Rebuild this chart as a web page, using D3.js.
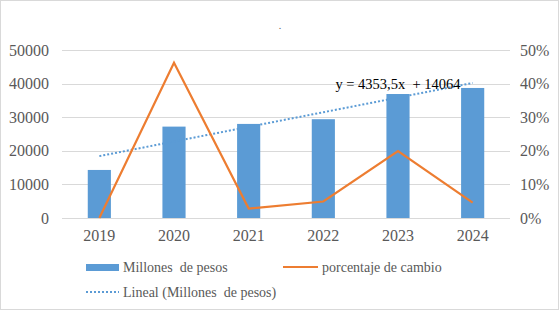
<!DOCTYPE html>
<html>
<head>
<meta charset="utf-8">
<script src="https://cdn.jsdelivr.net/npm/d3@7"></script>
</head>
<body style="margin:0;background:#fff">
<div id="chart"></div>
<script>
// Data
const years = ['2019', '2020', '2021', '2022', '2023', '2024'];
const millones = [14300, 27200, 28000, 29400, 36900, 38700];
const cambio = [0, 0.462, 0.028, 0.049, 0.199, 0.046];
const leftTicks = [0, 10000, 20000, 30000, 40000, 50000];
const rightTicks = [0, 0.1, 0.2, 0.3, 0.4, 0.5];
const trendSlope = 4353.5;
const trendIntercept = 14064;

const width = 559;
const height = 310;
const margin = { top: 50, right: 49, bottom: 92, left: 62 };

const serif = 'Liberation Serif';
const barColor = '#5b9bd5';
const lineColor = '#ed7d31';
const gridColor = '#d9d9d9';
const textColor = '#595959';

const svg = d3.select('#chart')
    .append('svg')
    .attr('width', width)
    .attr('height', height);

// outer border
svg.append('rect')
    .attr('x', 0.5).attr('y', 0.5)
    .attr('width', width - 1).attr('height', height - 1)
    .attr('fill', '#fff')
    .attr('stroke', gridColor);

// Scales
const x = d3.scaleBand()
    .domain(years)
    .range([margin.left, width - margin.right]);

const yLeft = d3.scaleLinear()
    .domain([0, 50000])
    .range([height - margin.bottom, margin.top]);

const yRight = d3.scaleLinear()
    .domain([0, 0.5])
    .range([height - margin.bottom, margin.top]);

// Gridlines
svg.append('g')
    .selectAll('line')
    .data(leftTicks)
    .join('line')
    .attr('x1', margin.left)
    .attr('x2', width - margin.right)
    .attr('y1', d => Math.round(yLeft(d)) + 0.5)
    .attr('y2', d => Math.round(yLeft(d)) + 0.5)
    .attr('stroke', gridColor)
    .attr('stroke-width', 1);

function styleAxis(g) {
    g.attr('font-family', null).attr('font-size', null);
    g.select('.domain').remove();
    g.selectAll('text')
        .style('font-family', serif)
        .style('font-size', '16px')
        .attr('fill', textColor);
}

// Left axis
svg.append('g')
    .attr('transform', `translate(${margin.left - 13},0)`)
    .call(d3.axisLeft(yLeft).tickValues(leftTicks).tickSize(0).tickPadding(0).tickFormat(d3.format('d')))
    .call(styleAxis);

// Right axis
svg.append('g')
    .attr('transform', `translate(${width - margin.right + 10},0)`)
    .call(d3.axisRight(yRight).tickValues(rightTicks).tickSize(0).tickPadding(0).tickFormat(d3.format('.0%')))
    .call(styleAxis);

// Bottom axis
svg.append('g')
    .attr('transform', `translate(0,${height - margin.bottom + 12})`)
    .call(d3.axisBottom(x).tickSize(0).tickPadding(0))
    .call(styleAxis);

// Bars
const barW = x.bandwidth() * 0.31;
svg.append('g')
    .selectAll('rect')
    .data(millones)
    .join('rect')
    .attr('x', (d, i) => x(years[i]) + x.bandwidth() / 2 - barW / 2)
    .attr('y', d => yLeft(d))
    .attr('width', barW)
    .attr('height', d => yLeft(0) - yLeft(d))
    .attr('fill', barColor);

// Linear trend
const trend = years.map((y, i) => ({ year: y, v: trendSlope * (i + 1) + trendIntercept }));
const trendLine = d3.line()
    .x(d => x(d.year) + x.bandwidth() / 2)
    .y(d => yLeft(d.v));
svg.append('path')
    .datum([trend[0], trend[trend.length - 1]])
    .attr('d', trendLine)
    .attr('fill', 'none')
    .attr('stroke', barColor)
    .attr('stroke-width', 2)
    .attr('stroke-dasharray', '2,2');

// Percentage line
const pctLine = d3.line()
    .x((d, i) => x(years[i]) + x.bandwidth() / 2)
    .y(d => yRight(d));
svg.append('path')
    .datum(cambio)
    .attr('d', pctLine)
    .attr('fill', 'none')
    .attr('stroke', lineColor)
    .attr('stroke-width', 2.2);

// Trend equation
svg.append('text')
    .attr('x', 398)
    .attr('y', 89)
    .attr('text-anchor', 'middle')
    .style('font-family', serif)
    .style('font-size', '14.5px')
    .style('white-space', 'pre')
    .attr('fill', '#000')
    .text('y = 4353,5x  + 14064');

// tiny title placeholder
svg.append('text')
    .attr('x', 280)
    .attr('y', 29)
    .attr('text-anchor', 'middle')
    .style('font-family', serif)
    .style('font-size', '10px')
    .attr('fill', textColor)
    .text('.');

// Legend
function legendText(tx, ty, label) {
    svg.append('text')
        .attr('x', tx).attr('y', ty)
        .style('font-family', serif)
        .style('font-size', '14px')
        .style('white-space', 'pre')
        .attr('fill', textColor)
        .text(label);
}

svg.append('rect')
    .attr('x', 86).attr('y', 264)
    .attr('width', 33).attr('height', 7)
    .attr('fill', barColor);
legendText(123, 272, 'Millones  de pesos');

svg.append('line')
    .attr('x1', 283).attr('x2', 318)
    .attr('y1', 267).attr('y2', 267)
    .attr('stroke', lineColor)
    .attr('stroke-width', 2.2);
legendText(322, 272, 'porcentaje de cambio');

svg.append('line')
    .attr('x1', 86).attr('x2', 119)
    .attr('y1', 292).attr('y2', 292)
    .attr('stroke', barColor)
    .attr('stroke-width', 2)
    .attr('stroke-dasharray', '2,2');
legendText(123, 297, 'Lineal (Millones  de pesos)');
</script>
</body>
</html>
